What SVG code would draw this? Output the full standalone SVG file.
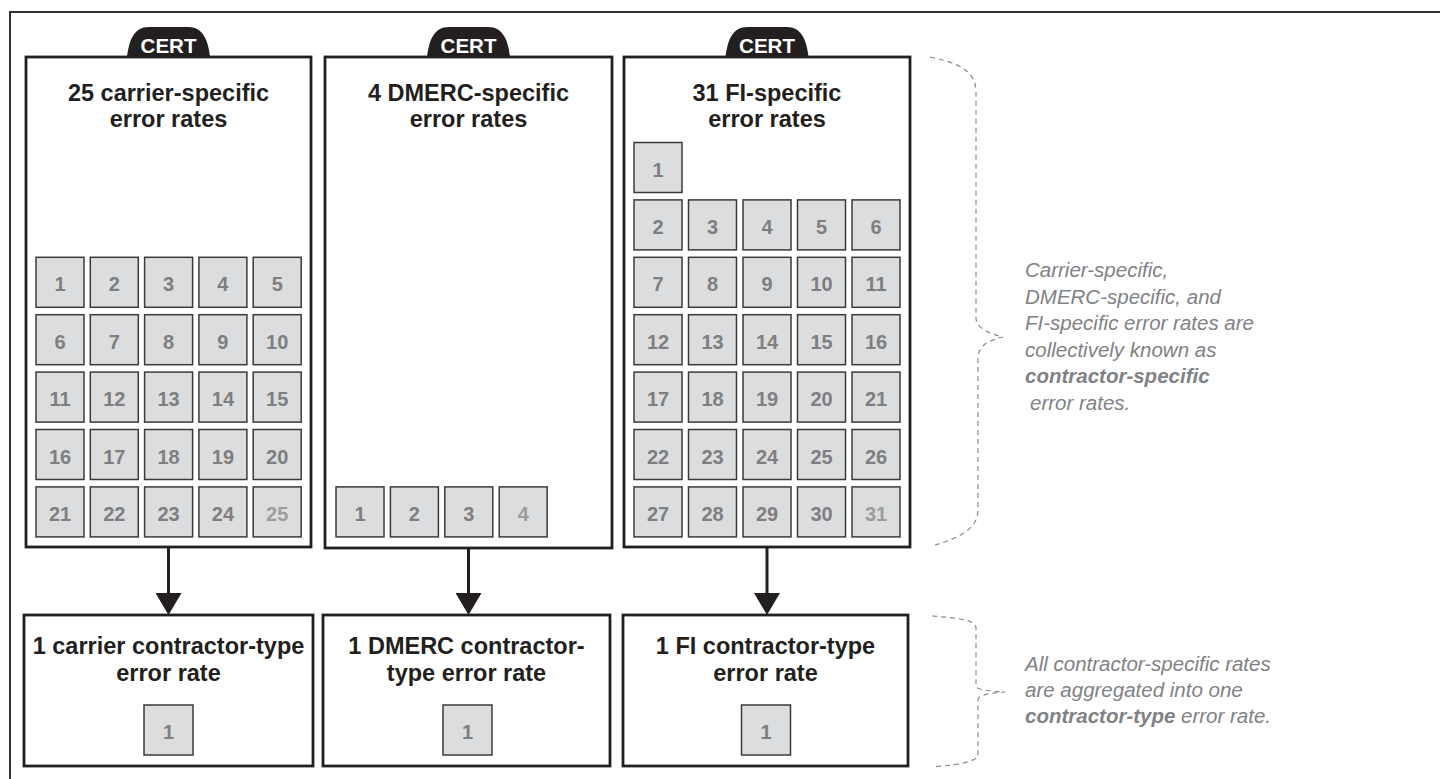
<svg xmlns="http://www.w3.org/2000/svg" width="1440" height="779" viewBox="0 0 1440 779">
<style>
.frame{fill:none;stroke:#333;stroke-width:2}
.box{fill:#fff;stroke:#231f20;stroke-width:2.8}
.tab{fill:#231f20}
.tabtxt{font-family:"Liberation Sans",Arial,sans-serif;font-weight:bold;font-size:20.5px;fill:#fff;text-anchor:middle}
.title{font-family:"Liberation Sans",Arial,sans-serif;font-weight:bold;font-size:23.5px;fill:#231f20;text-anchor:middle}
.cell{fill:#dcdddf;stroke:#3a3a3a;stroke-width:1.5}
.num{font-family:"Liberation Sans",Arial,sans-serif;font-weight:bold;font-size:20px;fill:#7f7f7f;text-anchor:middle}
.num.lt{fill:#9c9c9c}
.conn{stroke:#231f20;stroke-width:3;fill:none}
.brace{fill:none;stroke:#8a8a8a;stroke-width:1.2;stroke-dasharray:5 4}
.note{font-family:"Liberation Sans",Arial,sans-serif;font-style:italic;font-size:20.5px;fill:#808285}
.note .b{font-weight:bold}
</style>
<defs>
<marker id="arr" viewBox="0 -13 22 26" markerWidth="22" markerHeight="26" refX="12" refY="0" orient="auto" markerUnits="userSpaceOnUse">
<path d="M0,-13 L22,0 L0,13 Z" fill="#231f20"/>
</marker>
<path id="tabshape" d="M-41.5,0 C-39.5,-17 -34.5,-30 -19.5,-30 L19.5,-30 C34.5,-30 39.5,-17 41.5,0 Z"/>
</defs>

<path class="frame" d="M10,779 L10,12 L1440,12"/>

<g id="carrier-specific">
<use href="#tabshape" class="tab" x="168.5" y="57"/>
<text class="tabtxt" x="168.5" y="53">CERT</text>
<rect class="box" x="26" y="57" width="285" height="490"/>
<text class="title" x="168.5" y="101">25 carrier-specific</text>
<text class="title" x="168.5" y="127">error rates</text>
<rect class="cell" x="36" y="257.3" width="48" height="50"/><text class="num" x="60" y="291.3">1</text>
<rect class="cell" x="90.3" y="257.3" width="48" height="50"/><text class="num" x="114.3" y="291.3">2</text>
<rect class="cell" x="144.6" y="257.3" width="48" height="50"/><text class="num" x="168.6" y="291.3">3</text>
<rect class="cell" x="198.9" y="257.3" width="48" height="50"/><text class="num" x="222.9" y="291.3">4</text>
<rect class="cell" x="253.2" y="257.3" width="48" height="50"/><text class="num" x="277.2" y="291.3">5</text>
<rect class="cell" x="36" y="314.7" width="48" height="50"/><text class="num" x="60" y="348.7">6</text>
<rect class="cell" x="90.3" y="314.7" width="48" height="50"/><text class="num" x="114.3" y="348.7">7</text>
<rect class="cell" x="144.6" y="314.7" width="48" height="50"/><text class="num" x="168.6" y="348.7">8</text>
<rect class="cell" x="198.9" y="314.7" width="48" height="50"/><text class="num" x="222.9" y="348.7">9</text>
<rect class="cell" x="253.2" y="314.7" width="48" height="50"/><text class="num" x="277.2" y="348.7">10</text>
<rect class="cell" x="36" y="372.1" width="48" height="50"/><text class="num" x="60" y="406.1">11</text>
<rect class="cell" x="90.3" y="372.1" width="48" height="50"/><text class="num" x="114.3" y="406.1">12</text>
<rect class="cell" x="144.6" y="372.1" width="48" height="50"/><text class="num" x="168.6" y="406.1">13</text>
<rect class="cell" x="198.9" y="372.1" width="48" height="50"/><text class="num" x="222.9" y="406.1">14</text>
<rect class="cell" x="253.2" y="372.1" width="48" height="50"/><text class="num" x="277.2" y="406.1">15</text>
<rect class="cell" x="36" y="429.5" width="48" height="50"/><text class="num" x="60" y="463.5">16</text>
<rect class="cell" x="90.3" y="429.5" width="48" height="50"/><text class="num" x="114.3" y="463.5">17</text>
<rect class="cell" x="144.6" y="429.5" width="48" height="50"/><text class="num" x="168.6" y="463.5">18</text>
<rect class="cell" x="198.9" y="429.5" width="48" height="50"/><text class="num" x="222.9" y="463.5">19</text>
<rect class="cell" x="253.2" y="429.5" width="48" height="50"/><text class="num" x="277.2" y="463.5">20</text>
<rect class="cell" x="36" y="486.9" width="48" height="50"/><text class="num" x="60" y="520.9">21</text>
<rect class="cell" x="90.3" y="486.9" width="48" height="50"/><text class="num" x="114.3" y="520.9">22</text>
<rect class="cell" x="144.6" y="486.9" width="48" height="50"/><text class="num" x="168.6" y="520.9">23</text>
<rect class="cell" x="198.9" y="486.9" width="48" height="50"/><text class="num" x="222.9" y="520.9">24</text>
<rect class="cell" x="253.2" y="486.9" width="48" height="50"/><text class="num lt" x="277.2" y="520.9">25</text>
</g>

<g id="dmerc-specific">
<use href="#tabshape" class="tab" x="468.5" y="57"/>
<text class="tabtxt" x="468.5" y="53">CERT</text>
<rect class="box" x="325" y="57" width="287" height="491"/>
<text class="title" x="468.5" y="101">4 DMERC-specific</text>
<text class="title" x="468.5" y="127">error rates</text>
<rect class="cell" x="336" y="486.9" width="48" height="50"/><text class="num" x="360" y="520.9">1</text>
<rect class="cell" x="390.4" y="486.9" width="48" height="50"/><text class="num" x="414.4" y="520.9">2</text>
<rect class="cell" x="444.8" y="486.9" width="48" height="50"/><text class="num" x="468.8" y="520.9">3</text>
<rect class="cell" x="499.2" y="486.9" width="48" height="50"/><text class="num lt" x="523.2" y="520.9">4</text>
</g>

<g id="fi-specific">
<use href="#tabshape" class="tab" x="767" y="57"/>
<text class="tabtxt" x="767" y="53">CERT</text>
<rect class="box" x="624" y="57" width="286" height="490"/>
<text class="title" x="767" y="101">31 FI-specific</text>
<text class="title" x="767" y="127">error rates</text>
<rect class="cell" x="634" y="142.5" width="48" height="50"/><text class="num" x="658" y="176.5">1</text>
<rect class="cell" x="634" y="199.9" width="48" height="50"/><text class="num" x="658" y="233.9">2</text>
<rect class="cell" x="688.5" y="199.9" width="48" height="50"/><text class="num" x="712.5" y="233.9">3</text>
<rect class="cell" x="743" y="199.9" width="48" height="50"/><text class="num" x="767" y="233.9">4</text>
<rect class="cell" x="797.5" y="199.9" width="48" height="50"/><text class="num" x="821.5" y="233.9">5</text>
<rect class="cell" x="852" y="199.9" width="48" height="50"/><text class="num" x="876" y="233.9">6</text>
<rect class="cell" x="634" y="257.3" width="48" height="50"/><text class="num" x="658" y="291.3">7</text>
<rect class="cell" x="688.5" y="257.3" width="48" height="50"/><text class="num" x="712.5" y="291.3">8</text>
<rect class="cell" x="743" y="257.3" width="48" height="50"/><text class="num" x="767" y="291.3">9</text>
<rect class="cell" x="797.5" y="257.3" width="48" height="50"/><text class="num" x="821.5" y="291.3">10</text>
<rect class="cell" x="852" y="257.3" width="48" height="50"/><text class="num" x="876" y="291.3">11</text>
<rect class="cell" x="634" y="314.7" width="48" height="50"/><text class="num" x="658" y="348.7">12</text>
<rect class="cell" x="688.5" y="314.7" width="48" height="50"/><text class="num" x="712.5" y="348.7">13</text>
<rect class="cell" x="743" y="314.7" width="48" height="50"/><text class="num" x="767" y="348.7">14</text>
<rect class="cell" x="797.5" y="314.7" width="48" height="50"/><text class="num" x="821.5" y="348.7">15</text>
<rect class="cell" x="852" y="314.7" width="48" height="50"/><text class="num" x="876" y="348.7">16</text>
<rect class="cell" x="634" y="372.1" width="48" height="50"/><text class="num" x="658" y="406.1">17</text>
<rect class="cell" x="688.5" y="372.1" width="48" height="50"/><text class="num" x="712.5" y="406.1">18</text>
<rect class="cell" x="743" y="372.1" width="48" height="50"/><text class="num" x="767" y="406.1">19</text>
<rect class="cell" x="797.5" y="372.1" width="48" height="50"/><text class="num" x="821.5" y="406.1">20</text>
<rect class="cell" x="852" y="372.1" width="48" height="50"/><text class="num" x="876" y="406.1">21</text>
<rect class="cell" x="634" y="429.5" width="48" height="50"/><text class="num" x="658" y="463.5">22</text>
<rect class="cell" x="688.5" y="429.5" width="48" height="50"/><text class="num" x="712.5" y="463.5">23</text>
<rect class="cell" x="743" y="429.5" width="48" height="50"/><text class="num" x="767" y="463.5">24</text>
<rect class="cell" x="797.5" y="429.5" width="48" height="50"/><text class="num" x="821.5" y="463.5">25</text>
<rect class="cell" x="852" y="429.5" width="48" height="50"/><text class="num" x="876" y="463.5">26</text>
<rect class="cell" x="634" y="486.9" width="48" height="50"/><text class="num" x="658" y="520.9">27</text>
<rect class="cell" x="688.5" y="486.9" width="48" height="50"/><text class="num" x="712.5" y="520.9">28</text>
<rect class="cell" x="743" y="486.9" width="48" height="50"/><text class="num" x="767" y="520.9">29</text>
<rect class="cell" x="797.5" y="486.9" width="48" height="50"/><text class="num" x="821.5" y="520.9">30</text>
<rect class="cell" x="852" y="486.9" width="48" height="50"/><text class="num lt" x="876" y="520.9">31</text>
</g>

<g id="carrier-type">
<rect class="box" x="24" y="615" width="289" height="151"/>
<text class="title" x="168.5" y="654">1 carrier contractor-type</text>
<text class="title" x="168.5" y="681">error rate</text>
<rect class="cell" x="144" y="705" width="49" height="50"/><text class="num" x="168.5" y="739">1</text>
</g>

<g id="dmerc-type">
<rect class="box" x="323" y="615" width="287" height="151"/>
<text class="title" x="466.5" y="654">1 DMERC contractor-</text>
<text class="title" x="466.5" y="681">type error rate</text>
<rect class="cell" x="443" y="705" width="49" height="50"/><text class="num" x="467.5" y="739">1</text>
</g>

<g id="fi-type">
<rect class="box" x="623" y="615" width="285" height="151"/>
<text class="title" x="765.5" y="654">1 FI contractor-type</text>
<text class="title" x="765.5" y="681">error rate</text>
<rect class="cell" x="741.5" y="705" width="49" height="50"/><text class="num" x="766" y="739">1</text>
</g>

<g id="connectors">
<line class="conn" x1="168.5" y1="548" x2="168.5" y2="605" marker-end="url(#arr)"/>
<line class="conn" x1="468.5" y1="549" x2="468.5" y2="605" marker-end="url(#arr)"/>
<line class="conn" x1="767" y1="548" x2="767" y2="605" marker-end="url(#arr)"/>
</g>

<g id="brace-specific">
<path class="brace" d="M930,57 C960,63 976,72 976,92 L976,318 C976,328 990,334 1003,337 C990,340 978,345 978,358 L978,510 C978,528 960,538 935,545"/>
<text class="note" x="1025" y="277">Carrier-specific,</text>
<text class="note" x="1025" y="304">DMERC-specific, and</text>
<text class="note" x="1025" y="330">FI-specific error rates are</text>
<text class="note" x="1025" y="357">collectively known as</text>
<text class="note" x="1025" y="383"><tspan class="b">contractor-specific</tspan></text>
<text class="note" x="1030" y="410">error rates.</text>
</g>

<g id="brace-type">
<path class="brace" d="M932,616 C955,618 976,619 976,628 L976,686 C976,690 990,691 1005,692 C990,693 978,695 978,700 L978,755 C978,762 955,765 932,767"/>
<text class="note" x="1025" y="671">All contractor-specific rates</text>
<text class="note" x="1025" y="697">are aggregated into one</text>
<text class="note" x="1025" y="723"><tspan class="b">contractor-type</tspan> error rate.</text>
</g>
</svg>
